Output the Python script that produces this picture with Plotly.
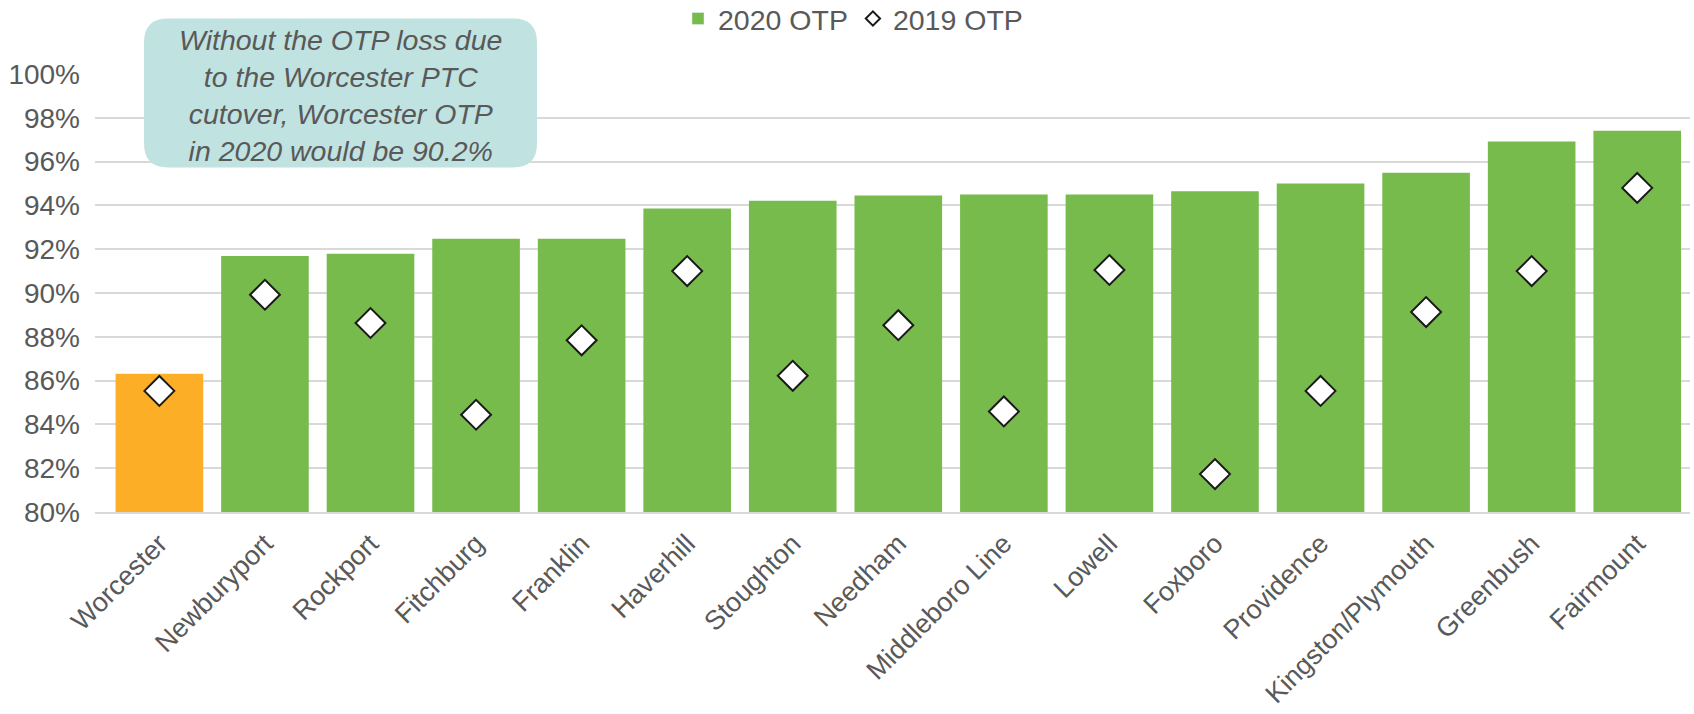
import plotly.graph_objects as go

categories = ["Worcester", "Newburyport", "Rockport", "Fitchburg", "Franklin", "Haverhill",
              "Stoughton", "Needham", "Middleboro Line", "Lowell", "Foxboro", "Providence",
              "Kingston/Plymouth", "Greenbush", "Fairmount"]
otp_2020 = [0.8631, 0.9169, 0.9179, 0.9248, 0.9248, 0.9386, 0.9421, 0.9445, 0.9450,
            0.9450, 0.9465, 0.9500, 0.9549, 0.9692, 0.9741]
otp_2019 = [0.8553, 0.8992, 0.8863, 0.8444, 0.8784, 0.9100, 0.8622, 0.8853, 0.8459,
            0.9105, 0.8173, 0.8553, 0.8913, 0.9100, 0.9480]
tick_vals = [0.80, 0.82, 0.84, 0.86, 0.88, 0.90, 0.92, 0.94, 0.96, 0.98, 1.00]

GREEN = "#77BB4D"
ORANGE = "#FBAE26"
TXT = "#595959"
FONT = "Liberation Sans, Arial, sans-serif"

bar_colors = [ORANGE] + [GREEN] * (len(categories) - 1)

fig = go.Figure()
fig.add_trace(go.Bar(x=categories, y=otp_2020, name="2020 OTP",
                     marker=dict(color=bar_colors, line=dict(width=0)),
                     showlegend=False))
fig.add_trace(go.Scatter(x=categories, y=otp_2019, name="2019 OTP", mode="markers",
                         marker=dict(symbol="diamond", size=23, color="white",
                                     line=dict(color="#1a1a1a", width=2)),
                         showlegend=False))
# legend entries
fig.add_trace(go.Bar(x=[categories[0]], y=[None], name="2020 OTP",
                     marker=dict(color=GREEN), showlegend=True))
fig.add_trace(go.Scatter(x=[categories[0]], y=[None], name="2019 OTP", mode="markers",
                         marker=dict(symbol="diamond", size=11, color="white",
                                     line=dict(color="#1a1a1a", width=2)),
                         showlegend=True))

W, H = 1694, 714
L, R, T, B = 95, 4, 73.5, 202
pw = W - L - R
ph = H - T - B

def px2paper(x, y):
    return (x - L) / pw, (H - B - y) / ph

x0, y0 = px2paper(144, 167)
x1, y1 = px2paper(537, 18)
rx = 24 / pw
ry = 24 / ph
path = (f"M {x0+rx},{y0} L {x1-rx},{y0} Q {x1},{y0} {x1},{y0+ry} "
        f"L {x1},{y1-ry} Q {x1},{y1} {x1-rx},{y1} "
        f"L {x0+rx},{y1} Q {x0},{y1} {x0},{y1-ry} "
        f"L {x0},{y0+ry} Q {x0},{y0} {x0+rx},{y0} Z")
fig.add_shape(type="path", path=path, xref="paper", yref="paper",
              fillcolor="#C0E2E0", line=dict(width=0), layer="above")

cx, cy = px2paper(340.5, 95)
fig.add_annotation(x=cx, y=cy, xref="paper", yref="paper", showarrow=False,
                   xanchor="center", yanchor="middle",
                   text="<i>Without the OTP loss due<br>to the Worcester PTC<br>cutover, Worcester OTP<br>in 2020 would be 90.2%</i>",
                   font=dict(family=FONT, size=28.5, color=TXT), align="center")

fig.update_layout(
    width=W, height=H,
    margin=dict(l=L, r=R, t=T, b=B, pad=0, autoexpand=False),
    paper_bgcolor="white", plot_bgcolor="white",
    barmode="overlay",
    bargap=0.17,
    font=dict(family=FONT, size=28, color=TXT),
    legend=dict(orientation="h", xref="container", yref="container",
                x=853 / W, y=1 - 19 / H,
                xanchor="center", yanchor="middle",
                font=dict(size=28.5, color=TXT), traceorder="normal",
                itemwidth=30, bgcolor="rgba(0,0,0,0)"),
    xaxis=dict(range=[-0.61, 14.5], tickangle=-45, showgrid=False,
               showline=True, linecolor="#D9D9D9", linewidth=2,
               ticks="", ticklabelstandoff=3, automargin=False,
               tickfont=dict(family=FONT, size=27, color=TXT)),
    yaxis=dict(range=[0.8, 1.0], tickvals=tick_vals, tickformat=".0%",
               showgrid=True, gridcolor="#D9D9D9", gridwidth=1.5,
               zeroline=False, showline=False, ticks="", ticklabelstandoff=14,
               automargin=False,
               tickfont=dict(family=FONT, size=28, color=TXT)),
)

fig.write_html("out.html", config={"displayModeBar": False},
               post_script="document.body.style.margin='0';document.body.style.padding='0';")
